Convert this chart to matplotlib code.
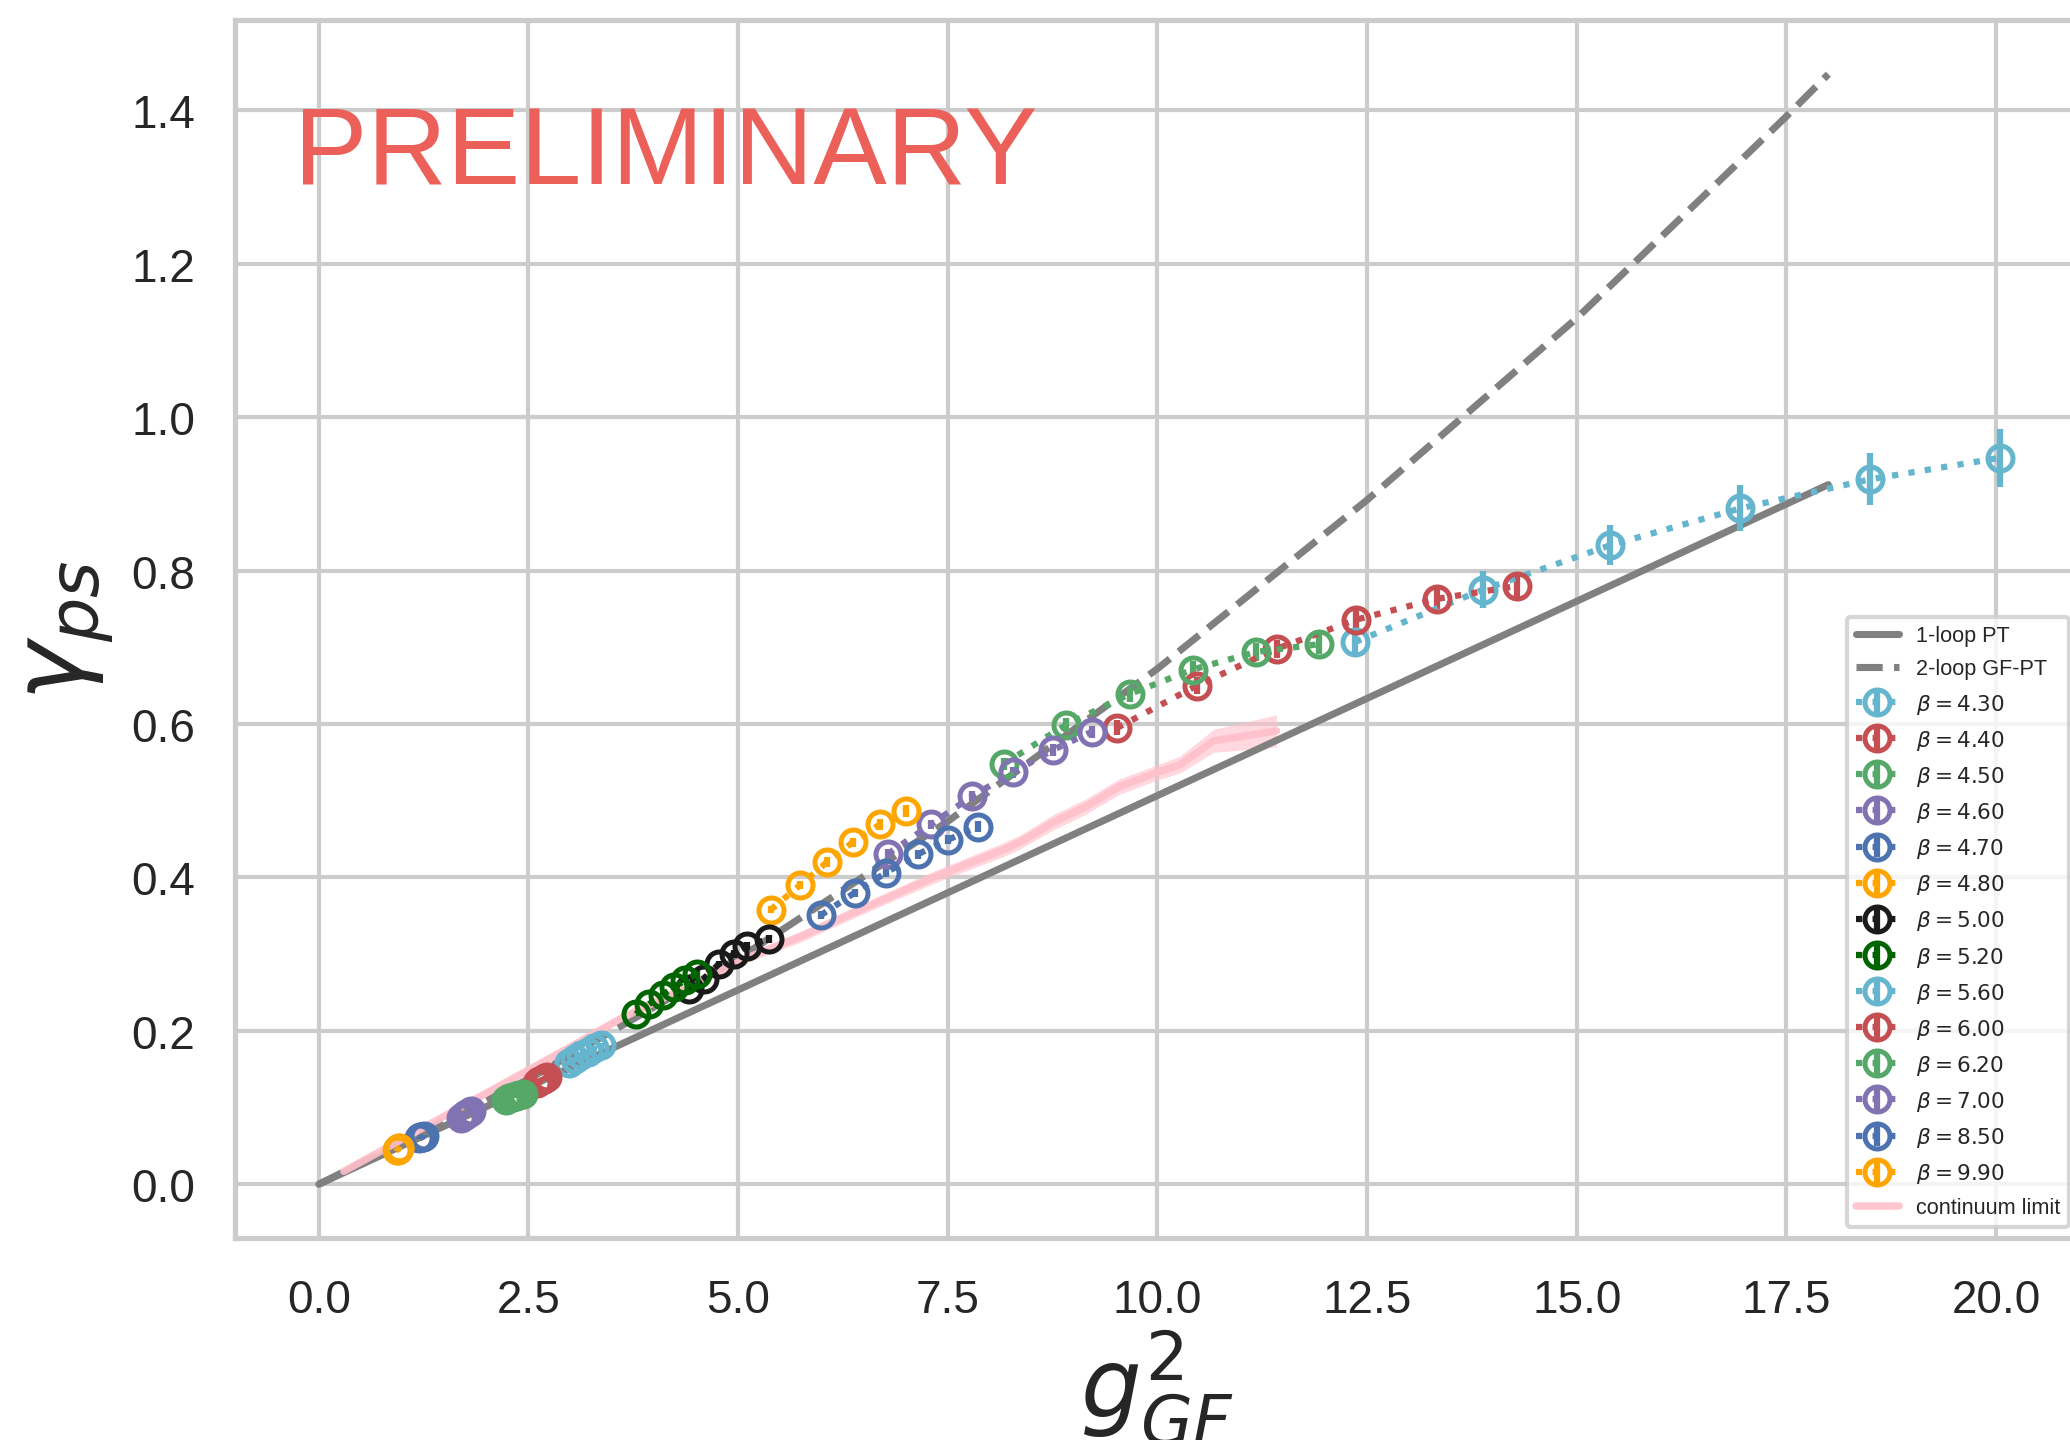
import matplotlib
matplotlib.use("Agg")
import matplotlib.pyplot as plt
import seaborn as sns

sns.set_theme(style="whitegrid")
plt.rcParams["font.family"] = ["Liberation Sans", "DejaVu Sans"]

# perturbative curves
pt1_g2 = [0.0, 18.0]
pt1_gam = [0.0, 0.912]
pt2_g2 = [0.0, 2.5, 5.0, 7.5, 10.0, 12.5, 15.0, 17.5, 18.0]
pt2_gam = [0.0, 0.137, 0.294, 0.473, 0.672, 0.892, 1.129, 1.392, 1.447]

# lattice data per beta
g2_430 = [12.36, 13.88, 15.40, 16.95, 18.50, 20.05]
gam_430 = [0.707, 0.775, 0.833, 0.881, 0.919, 0.947]
err_430 = [0.018, 0.024, 0.026, 0.030, 0.034, 0.038]

g2_440 = [9.52, 10.47, 11.42, 12.37, 13.33, 14.29]
gam_440 = [0.595, 0.650, 0.698, 0.736, 0.763, 0.780]
err_440 = [0.010, 0.011, 0.012, 0.013, 0.013, 0.014]

g2_450 = [8.17, 8.91, 9.67, 10.42, 11.18, 11.93]
gam_450 = [0.548, 0.599, 0.639, 0.671, 0.694, 0.704]
err_450 = [0.008, 0.009, 0.010, 0.011, 0.012, 0.013]

g2_460 = [6.79, 7.30, 7.79, 8.28, 8.75, 9.22]
gam_460 = [0.431, 0.469, 0.506, 0.537, 0.566, 0.590]
err_460 = [0.006, 0.006, 0.007, 0.007, 0.008, 0.008]

g2_470 = [5.99, 6.39, 6.76, 7.14, 7.50, 7.86]
gam_470 = [0.351, 0.380, 0.406, 0.430, 0.449, 0.466]
err_470 = [0.005, 0.005, 0.006, 0.006, 0.006, 0.007]

g2_480 = [5.39, 5.74, 6.06, 6.37, 6.69, 7.00]
gam_480 = [0.358, 0.390, 0.420, 0.446, 0.469, 0.487]
err_480 = [0.005, 0.005, 0.006, 0.006, 0.007, 0.008]

g2_500 = [4.41, 4.59, 4.77, 4.95, 5.11, 5.37]
gam_500 = [0.255, 0.268, 0.287, 0.300, 0.311, 0.320]
err_500 = [0.004, 0.004, 0.004, 0.005, 0.005, 0.005]

g2_520 = [3.78, 3.94, 4.10, 4.23, 4.37, 4.51]
gam_520 = [0.222, 0.235, 0.247, 0.257, 0.266, 0.274]
err_520 = [0.003, 0.003, 0.004, 0.004, 0.004, 0.004]

g2_560 = [2.98, 3.06, 3.13, 3.21, 3.28, 3.36]
gam_560 = [0.158, 0.163, 0.168, 0.172, 0.177, 0.181]
err_560 = [0.003, 0.003, 0.003, 0.003, 0.003, 0.003]

g2_600 = [2.60, 2.63, 2.66, 2.68, 2.70, 2.72]
gam_600 = [0.132, 0.134, 0.136, 0.137, 0.139, 0.140]
err_600 = [0.002, 0.002, 0.002, 0.002, 0.002, 0.002]

g2_620 = [2.23, 2.27, 2.31, 2.35, 2.39, 2.43]
gam_620 = [0.110, 0.112, 0.114, 0.115, 0.117, 0.118]
err_620 = [0.002, 0.002, 0.002, 0.002, 0.002, 0.002]

g2_700 = [1.70, 1.73, 1.75, 1.77, 1.80, 1.82]
gam_700 = [0.087, 0.089, 0.091, 0.092, 0.094, 0.096]
err_700 = [0.002, 0.002, 0.002, 0.002, 0.002, 0.002]

g2_850 = [1.20, 1.21, 1.22, 1.23, 1.24, 1.25]
gam_850 = [0.060, 0.061, 0.061, 0.062, 0.062, 0.063]
err_850 = [0.001, 0.001, 0.001, 0.001, 0.001, 0.001]

g2_990 = [0.93, 0.94, 0.945, 0.95, 0.955, 0.96]
gam_990 = [0.045, 0.045, 0.046, 0.046, 0.047, 0.047]
err_990 = [0.001, 0.001, 0.001, 0.001, 0.001, 0.001]

betas = ["4.30", "4.40", "4.50", "4.60", "4.70", "4.80", "5.00",
         "5.20", "5.60", "6.00", "6.20", "7.00", "8.50", "9.90"]
colors = ["#64B5CD", "#C44E52", "#55A868", "#8172B2", "#4C72B0", "orange", "k", "darkgreen"]

# continuum extrapolation
cont_g2 = [0.3, 1.0, 2.0, 3.0, 3.6, 4.5, 5.15, 5.75, 6.5, 7.35, 8.16, 8.36,
           8.76, 9.14, 9.54, 10.0, 10.27, 10.67, 11.42]
cont_gam = [0.017, 0.059, 0.119, 0.179, 0.216, 0.263, 0.297, 0.323, 0.360, 0.401,
            0.436, 0.446, 0.472, 0.492, 0.518, 0.537, 0.547, 0.578, 0.591]
cont_err = [0.002, 0.003, 0.004, 0.005, 0.005, 0.006, 0.006, 0.007, 0.007, 0.008,
            0.009, 0.009, 0.010, 0.010, 0.010, 0.010, 0.011, 0.015, 0.021]

series = [
    (g2_430, gam_430, err_430), (g2_440, gam_440, err_440), (g2_450, gam_450, err_450),
    (g2_460, gam_460, err_460), (g2_470, gam_470, err_470), (g2_480, gam_480, err_480),
    (g2_500, gam_500, err_500), (g2_520, gam_520, err_520), (g2_560, gam_560, err_560),
    (g2_600, gam_600, err_600), (g2_620, gam_620, err_620), (g2_700, gam_700, err_700),
    (g2_850, gam_850, err_850), (g2_990, gam_990, err_990),
]

fig = plt.figure(figsize=(6.9, 4.8033), dpi=300)
ax = fig.add_axes([0.1135, 0.1402, 0.8913, 0.8449])

handles = []
h1, = ax.plot(pt1_g2, pt1_gam, color="gray", lw=1.7, label="1-loop PT")
h2, = ax.plot(pt2_g2, pt2_gam, color="gray", lw=1.7, ls="--", label="2-loop GF-PT")
handles += [h1, h2]

for i, (x, y, e) in enumerate(series):
    c = colors[i % len(colors)]
    h = ax.errorbar(x, y, yerr=e, fmt="o", ls=":", color=c, mfc="none", ms=6,
                    mew=1.2, lw=1.5, elinewidth=1.5, capsize=0,
                    label=r"$\beta = %s$" % betas[i])
    handles.append(h)

lo = [g - s for g, s in zip(cont_gam, cont_err)]
hi = [g + s for g, s in zip(cont_gam, cont_err)]
ax.fill_between(cont_g2, lo, hi, color="pink", alpha=0.6, lw=0)
hc, = ax.plot(cont_g2, cont_gam, color="pink", lw=1.8, alpha=0.9, label="continuum limit")
handles.append(hc)

ax.text(-0.3, 1.305, "PRELIMINARY", fontsize=26.4, color="#EC605A")

ax.set_xlim(-1.0, 21.0)
ax.set_ylim(-0.07, 1.517)
ax.set_xticks([0, 2.5, 5, 7.5, 10, 12.5, 15, 17.5, 20])
ax.set_yticks([0, 0.2, 0.4, 0.6, 0.8, 1.0, 1.2, 1.4])
ax.tick_params(labelsize=11, length=0, pad=9.5)
ax.set_xlabel(r"$g^2_{GF}$", fontsize=23, labelpad=1.5)
ax.set_ylabel(r"$\gamma_{ps}$", fontsize=24)
ax.legend(handles=handles, loc="lower right", fontsize=5.2, labelspacing=0.56)

fig.savefig("out.png", dpi=300)
